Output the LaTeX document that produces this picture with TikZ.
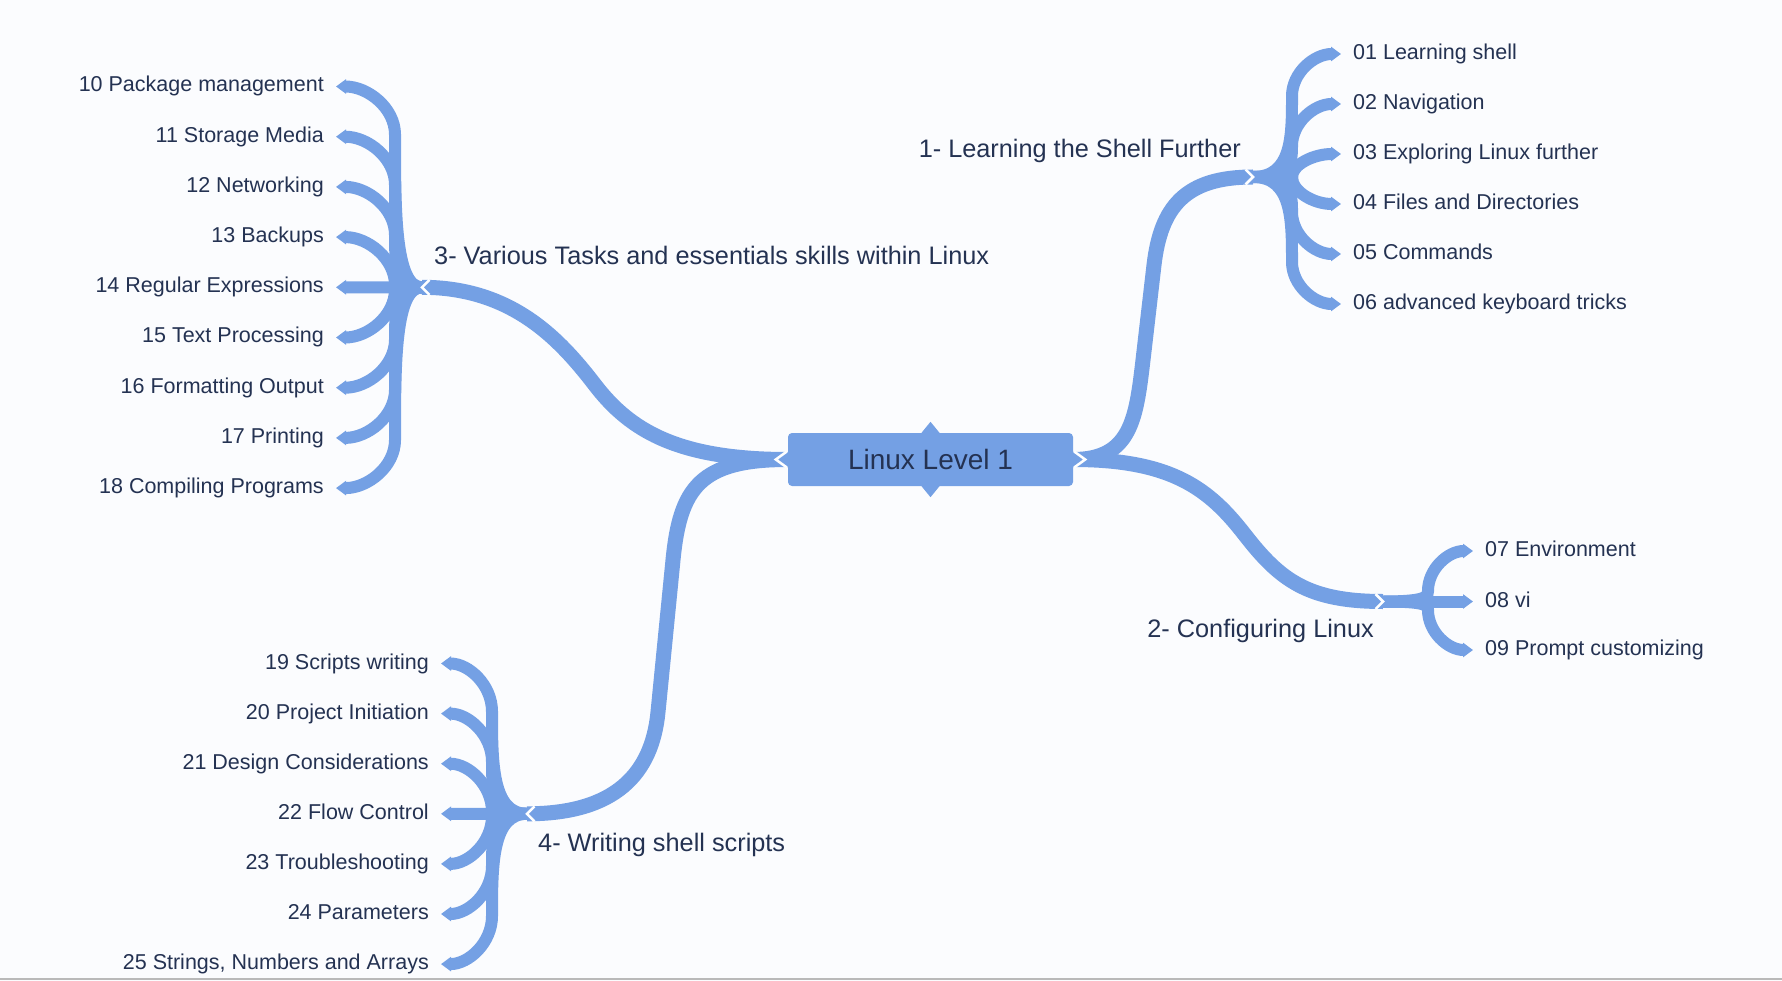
\documentclass[tikz,border=0pt]{standalone}
\usepackage{fontspec}
\setmainfont{Liberation Sans}
\usetikzlibrary{arrows.meta}
\definecolor{twigblue}{HTML}{74A0E4}
\definecolor{inkblue}{HTML}{243252}
\definecolor{paper}{HTML}{FBFCFE}
\begin{document}
\begin{tikzpicture}[x=1pt, y=-1pt,
  every node/.style={text=inkblue},
  topicbox/.style={fill=twigblue, rounded corners=4pt, minimum width=285pt, minimum height=53pt, inner sep=0pt, font=\fontsize{28}{34}\selectfont},
  branchlabel/.style={inner sep=0pt, font=\fontsize{25.3}{30}\selectfont},
  leaf/.style={inner xsep=12pt, inner ysep=0pt, text height=15.5pt, text depth=4.5pt, font=\fontsize{21.5}{26}\selectfont},
  limb/.style={draw=twigblue, line width=15pt},
  twig/.style={draw=twigblue, line width=12pt, -{Triangle[length=10pt, width=14pt]}},
  notch/.style={draw=white, line width=2.5pt}]
\fill[paper] (0,0) rectangle (1782,981);
\useasboundingbox (0,0) rectangle (1782,981);
\draw[gray!55, line width=2pt] (0,979) -- (1782,979);

\node[topicbox] (root) at (930.5,459.5) {Linux Level 1};
\fill[twigblue] ([xshift=-9pt]root.north) -- ([yshift=11pt]root.north) -- ([xshift=9pt]root.north) -- cycle;
\fill[twigblue] ([xshift=-9pt]root.south) -- ([yshift=-11pt]root.south) -- ([xshift=9pt]root.south) -- cycle;

\coordinate (h1) at (1253,177);
\coordinate (h2) at (1383,601.5);
\coordinate (h3) at (422,287.3);
\coordinate (h4) at (527,813.8);
\coordinate (m1a) at (1143,360);
\coordinate (m1b) at (1154,265);
\coordinate (m2) at (1245,535);
\coordinate (m3) at (595,385);
\coordinate (m4a) at (673,560);
\coordinate (m4b) at (658,712);

\node[branchlabel, anchor=base east] (t1) at (1241,158) {1- Learning the Shell Further};
\node[branchlabel, anchor=base east] (t2) at (1374,637) {2- Configuring Linux};
\node[branchlabel, anchor=base west] (t3) at (434,265) {3- Various Tasks and essentials skills within Linux};
\node[branchlabel, anchor=base west] (t4) at (538,851) {4- Writing shell scripts};

\draw[limb] (root.east) .. controls +(58,0) and +(-6.8,58) .. (m1a) -- (m1b) .. controls +(6.8,-58) and +(-68,0) .. (h1);
\draw[limb] (root.east) .. controls +(100,0) and +(-35,-45) .. (m2) .. controls +(35,45) and +(-75,0) .. (h2);
\draw[limb] (root.west) .. controls +(-110,0) and +(35,45.5) .. (m3) .. controls +(-35,-45.5) and +(90,0) .. (h3);
\draw[limb] (root.west) .. controls +(-88,0) and +(7,-72) .. (m4a) -- (m4b) .. controls +(-6,62) and +(88,0) .. (h4);

\foreach \txt [count=\i from 0] in {01 Learning shell, 02 Navigation, 03 Exploring Linux further, 04 Files and Directories, 05 Commands, 06 advanced keyboard tricks} {
  \pgfmathsetmacro{\yc}{54+50*\i}
  \pgfmathsetmacro{\rr}{min(42,abs(177-\yc))*sign(177-\yc)}
  \pgfmathsetmacro{\ym}{\yc+\rr}
  \pgfmathsetmacro{\ka}{0.5*(177-\ym)}
  \pgfmathsetmacro{\kb}{-0.55*\rr}
  \node[leaf, anchor=west] (a\i) at (1341,\yc) {\txt};
  \draw[twig] (h1) .. controls +(39,0) and +(0,\ka) .. (1292,\ym) .. controls +(0,\kb) and +(-27,0) .. (a\i.west);
}
\foreach \yc/\txt [count=\i] in {551/07 Environment, 601.5/08 vi, 650/09 Prompt customizing} {
  \pgfmathsetmacro{\rr}{min(40,abs(601.5-\yc))*sign(601.5-\yc)}
  \pgfmathsetmacro{\ym}{\yc+\rr}
  \pgfmathsetmacro{\ka}{0.5*(601.5-\ym)}
  \pgfmathsetmacro{\kb}{-0.55*\rr}
  \node[leaf, anchor=west] (b\i) at (1473,\yc) {\txt};
  \draw[twig] (h2) .. controls +(45,0) and +(0,\ka) .. (1428,\ym) .. controls +(0,\kb) and +(-25,0) .. (b\i.west);
}
\foreach \txt [count=\i from 0] in {10 Package management, 11 Storage Media, 12 Networking, 13 Backups, 14 Regular Expressions, 15 Text Processing, 16 Formatting Output, 17 Printing, 18 Compiling Programs} {
  \pgfmathsetmacro{\yc}{86.5+50.2*\i}
  \pgfmathsetmacro{\rr}{min(48,abs(287.3-\yc))*sign(287.3-\yc)}
  \pgfmathsetmacro{\ym}{\yc+\rr}
  \pgfmathsetmacro{\ka}{0.5*(287.3-\ym)}
  \pgfmathsetmacro{\kb}{-0.55*\rr}
  \node[leaf, anchor=east] (c\i) at (336,\yc) {\txt};
  \draw[twig] (h3) .. controls +(-27,0) and +(0,\ka) .. (395,\ym) .. controls +(0,\kb) and +(32,0) .. (c\i.east);
}
\foreach \txt [count=\i from 0] in {19 Scripts writing, 20 Project Initiation, 21 Design Considerations, 22 Flow Control, 23 Troubleshooting, 24 Parameters, {25 Strings, Numbers and Arrays}} {
  \pgfmathsetmacro{\yc}{663.5+50.1*\i}
  \pgfmathsetmacro{\rr}{min(48,abs(813.8-\yc))*sign(813.8-\yc)}
  \pgfmathsetmacro{\ym}{\yc+\rr}
  \pgfmathsetmacro{\ka}{0.5*(813.8-\ym)}
  \pgfmathsetmacro{\kb}{-0.55*\rr}
  \node[leaf, anchor=east] (d\i) at (441,\yc) {\txt};
  \draw[twig] (h4) .. controls +(-35,0) and +(0,\ka) .. (492,\ym) .. controls +(0,\kb) and +(28,0) .. (d\i.east);
}

\draw[notch] ([shift={(1,-8)}]root.east) -- ([xshift=12pt]root.east) -- ([shift={(1,8)}]root.east);
\draw[notch] ([shift={(-1,-8)}]root.west) -- ([xshift=-12pt]root.west) -- ([shift={(-1,8)}]root.west);
\draw[notch] ([shift={(-7.5,-7.5)}]h1) -- (h1) -- ([shift={(-7.5,7.5)}]h1);
\draw[notch] ([shift={(-7.5,-7.5)}]h2) -- (h2) -- ([shift={(-7.5,7.5)}]h2);
\draw[notch] ([shift={(7.5,-7.5)}]h3) -- (h3) -- ([shift={(7.5,7.5)}]h3);
\draw[notch] ([shift={(7.5,-7.5)}]h4) -- (h4) -- ([shift={(7.5,7.5)}]h4);
\end{tikzpicture}
\end{document}
